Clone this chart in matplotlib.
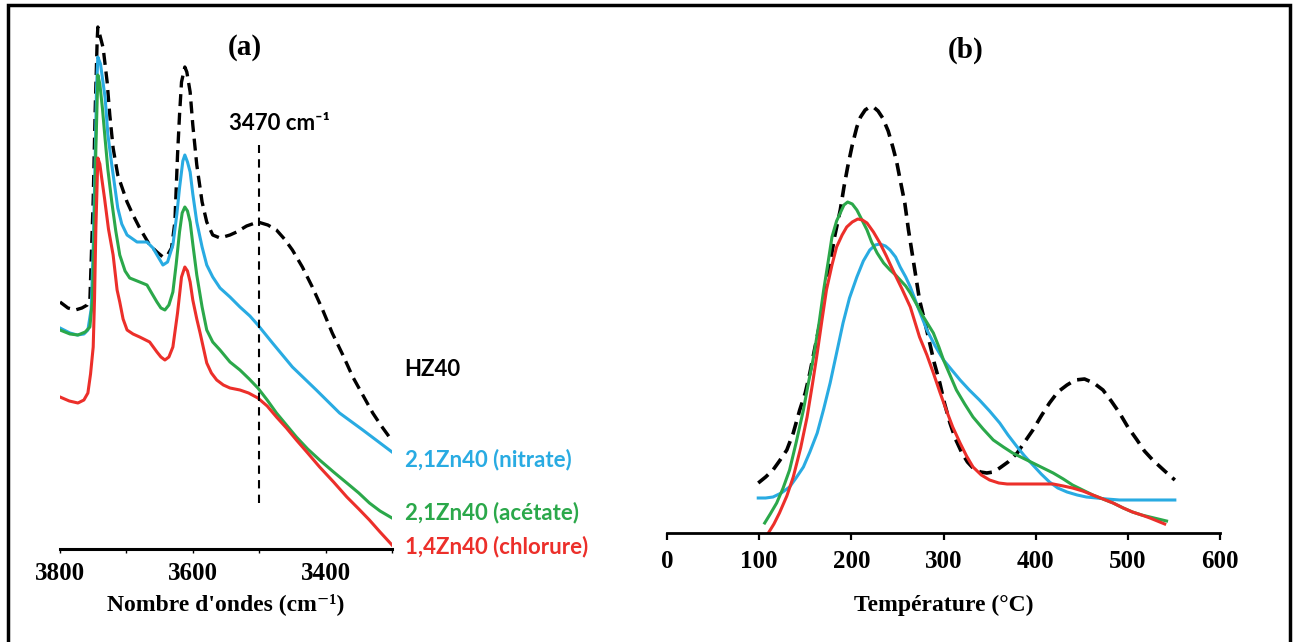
import matplotlib
matplotlib.use("Agg")
import matplotlib.pyplot as plt
from matplotlib.patches import Rectangle

# ---- (a) spectres IR : nombre d'ondes (cm-1) / absorbance (u.a.)
wn_hz40 = [3800, 3788, 3777, 3767, 3759, 3755, 3750, 3747, 3744, 3743, 3740, 3735, 3729, 3725,
           3720, 3713, 3699, 3690, 3680, 3665, 3654, 3645, 3638, 3632, 3627, 3623, 3620, 3617,
           3612, 3609, 3604, 3600, 3594, 3586, 3579, 3570, 3559, 3544, 3534, 3519, 3502, 3487,
           3474, 3462, 3450, 3435, 3420, 3405, 3390, 3374, 3359, 3344, 3329, 3316, 3304]
ab_hz40 = [2.47, 2.41, 2.39, 2.41, 2.44, 2.49, 3.49, 4.39, 5.09, 5.22, 5.14, 5.01, 4.67, 4.34,
           4.01, 3.74, 3.47, 3.34, 3.21, 3.04, 2.97, 2.92, 2.94, 3.01, 3.27, 3.94, 4.34, 4.67,
           4.82, 4.77, 4.57, 4.24, 3.84, 3.47, 3.27, 3.14, 3.11, 3.14, 3.17, 3.23, 3.27, 3.24,
           3.19, 3.10, 2.99, 2.82, 2.62, 2.40, 2.16, 1.94, 1.72, 1.54, 1.36, 1.23, 1.12]

wn_nit = [3800, 3785, 3774, 3764, 3758, 3753, 3750, 3747, 3745, 3743, 3739, 3732, 3728, 3722,
          3713, 3707, 3699, 3684, 3669, 3660, 3653, 3645, 3638, 3630, 3624, 3620, 3615, 3612,
          3608, 3604, 3600, 3594, 3586, 3579, 3570, 3559, 3544, 3529, 3514, 3502, 3480, 3450,
          3414, 3379, 3344, 3300]
ab_nit = [2.21, 2.16, 2.14, 2.15, 2.19, 2.40, 3.00, 3.90, 4.60, 4.92, 4.85, 4.51, 4.15, 3.84,
          3.41, 3.25, 3.14, 3.07, 3.07, 3.01, 2.93, 2.84, 2.87, 3.04, 3.35, 3.61, 3.88, 3.94,
          3.87, 3.77, 3.55, 3.27, 3.02, 2.84, 2.72, 2.61, 2.52, 2.42, 2.33, 2.24, 2.06, 1.82,
          1.59, 1.36, 1.19, 0.97]

wn_ace = [3800, 3785, 3773, 3762, 3755, 3751, 3748, 3746, 3743, 3740, 3736, 3733, 3728, 3722,
          3716, 3710, 3702, 3695, 3680, 3669, 3662, 3654, 3648, 3642, 3636, 3630, 3625, 3620,
          3616, 3612, 3608, 3604, 3600, 3594, 3586, 3579, 3570, 3559, 3544, 3529, 3515, 3502,
          3488, 3474, 3459, 3444, 3427, 3409, 3388, 3368, 3350, 3334, 3318, 3300]
ab_ace = [2.19, 2.15, 2.14, 2.17, 2.22, 2.50, 3.30, 4.00, 4.74, 4.65, 4.40, 4.17, 3.80, 3.47,
          3.18, 2.94, 2.78, 2.71, 2.67, 2.64, 2.56, 2.47, 2.41, 2.39, 2.44, 2.57, 2.85, 3.17,
          3.36, 3.42, 3.38, 3.27, 3.05, 2.74, 2.42, 2.19, 2.07, 1.99, 1.87, 1.79, 1.70, 1.61,
          1.49, 1.36, 1.24, 1.12, 1.00, 0.89, 0.77, 0.66, 0.56, 0.46, 0.38, 0.31]

wn_chl = [3800, 3786, 3773, 3764, 3758, 3754, 3750, 3748, 3746, 3743, 3740, 3737, 3733, 3727,
          3720, 3714, 3710, 3705, 3699, 3690, 3680, 3665, 3654, 3648, 3642, 3636, 3630, 3623,
          3617, 3612, 3608, 3604, 3600, 3594, 3589, 3579, 3572, 3564, 3554, 3544, 3529, 3516,
          3502, 3488, 3474, 3459, 3444, 3427, 3409, 3388, 3368, 3350, 3334, 3318, 3300]
ab_chl = [1.52, 1.48, 1.46, 1.49, 1.56, 1.75, 2.02, 2.50, 3.20, 3.91, 3.85, 3.70, 3.51, 3.20,
          2.94, 2.59, 2.47, 2.30, 2.19, 2.15, 2.12, 2.07, 1.97, 1.92, 1.89, 1.92, 2.02, 2.36,
          2.72, 2.82, 2.78, 2.67, 2.49, 2.30, 2.16, 1.86, 1.76, 1.69, 1.64, 1.61, 1.59, 1.56,
          1.51, 1.43, 1.32, 1.21, 1.09, 0.96, 0.82, 0.67, 0.52, 0.40, 0.29, 0.17, 0.04]

ticks_a = [3800, 3700, 3600, 3500, 3400, 3300]
ticklabels_a = ['3800', '', '3600', '', '3400', '']

# ---- (b) TPD : temperature (°C) / signal (u.a.)
t_hz40 = [99, 107, 115, 122, 130, 137, 144, 150, 155, 160, 166, 171, 177, 182, 188, 192, 196,
          201, 206, 210, 215, 220, 224, 229, 234, 240, 245, 249, 253, 258, 262, 268, 274, 280,
          285, 290, 296, 301, 307, 313, 320, 326, 332, 340, 347, 354, 361, 370, 380, 388, 397,
          406, 415, 424, 434, 443, 453, 463, 473, 482, 491, 500, 510, 518, 527, 540, 551]
s_hz40 = [0.50, 0.56, 0.63, 0.72, 0.83, 1.00, 1.23, 1.40, 1.60, 1.83, 2.10, 2.40, 2.70, 2.97,
          3.23, 3.46, 3.66, 3.88, 4.06, 4.16, 4.23, 4.26, 4.26, 4.22, 4.15, 4.02, 3.86, 3.72,
          3.53, 3.30, 3.03, 2.68, 2.33, 2.10, 1.90, 1.70, 1.50, 1.30, 1.10, 0.94, 0.80, 0.71,
          0.65, 0.61, 0.60, 0.61, 0.65, 0.71, 0.80, 0.91, 1.03, 1.17, 1.30, 1.41, 1.48, 1.53,
          1.54, 1.50, 1.43, 1.32, 1.20, 1.06, 0.93, 0.82, 0.73, 0.62, 0.53]

t_nit = [99, 107, 115, 124, 133, 140, 148, 155, 163, 170, 177, 184, 191, 198, 206, 213, 220,
         226, 231, 237, 242, 248, 253, 259, 264, 273, 282, 291, 300, 309, 318, 328, 339, 350,
         361, 370, 380, 388, 397, 406, 415, 424, 434, 445, 455, 466, 477, 491, 505, 530, 551]
s_nit = [0.35, 0.35, 0.36, 0.40, 0.46, 0.55, 0.66, 0.81, 1.00, 1.24, 1.50, 1.80, 2.10, 2.35,
         2.56, 2.72, 2.83, 2.88, 2.89, 2.87, 2.83, 2.76, 2.66, 2.56, 2.46, 2.24, 2.03, 1.87,
         1.73, 1.63, 1.53, 1.43, 1.33, 1.22, 1.10, 0.98, 0.86, 0.77, 0.68, 0.59, 0.51, 0.45,
         0.41, 0.38, 0.36, 0.35, 0.34, 0.33, 0.33, 0.33, 0.33]

t_ace = [106, 112, 119, 126, 133, 140, 148, 153, 159, 165, 170, 175, 179, 184, 188, 192, 196,
         201, 206, 211, 217, 222, 228, 235, 242, 248, 253, 259, 264, 270, 277, 283, 289, 295,
         300, 307, 314, 323, 332, 343, 354, 365, 375, 386, 397, 408, 419, 430, 440, 451, 462,
         473, 484, 495, 505, 515, 524, 533, 542]
s_ace = [0.10, 0.19, 0.30, 0.45, 0.63, 0.90, 1.23, 1.48, 1.76, 2.10, 2.43, 2.72, 2.96, 3.12,
         3.20, 3.28, 3.31, 3.29, 3.23, 3.14, 3.03, 2.91, 2.80, 2.70, 2.63, 2.58, 2.53, 2.47,
         2.40, 2.30, 2.18, 2.09, 2.00, 1.86, 1.73, 1.58, 1.43, 1.29, 1.16, 1.04, 0.93, 0.86,
         0.80, 0.75, 0.70, 0.65, 0.60, 0.54, 0.48, 0.43, 0.38, 0.34, 0.30, 0.25, 0.21, 0.18,
         0.16, 0.14, 0.12]

t_chl = [110, 116, 122, 130, 137, 145, 152, 158, 163, 168, 173, 179, 184, 190, 195, 201, 207,
         212, 217, 224, 231, 238, 245, 255, 264, 269, 274, 282, 289, 296, 303, 310, 318, 325,
         332, 341, 350, 360, 369, 397, 419, 430, 440, 451, 462, 473, 484, 495, 505, 515, 524,
         532, 540]
s_chl = [0.00, 0.09, 0.20, 0.37, 0.56, 0.85, 1.16, 1.50, 1.80, 2.12, 2.43, 2.68, 2.86, 2.98,
         3.06, 3.11, 3.14, 3.13, 3.10, 3.01, 2.90, 2.77, 2.63, 2.44, 2.26, 2.11, 1.96, 1.78,
         1.60, 1.41, 1.23, 1.06, 0.90, 0.77, 0.66, 0.58, 0.53, 0.50, 0.49, 0.49, 0.49, 0.47,
         0.45, 0.42, 0.38, 0.34, 0.30, 0.25, 0.21, 0.18, 0.15, 0.12, 0.09]

ticks_b = [0, 100, 200, 300, 400, 500, 600]

names = ['2,1Zn40 (nitrate)', '2,1Zn40 (acétate)', '1,4Zn40 (chlorure)']
c_nit, c_ace, c_chl = '#29abe2', '#2ba84a', '#ec2f2a'

serif = ['Liberation Serif', 'DejaVu Serif']
sans = ['Lato', 'DejaVu Sans']

fig = plt.figure(figsize=(12.98, 6.42), dpi=100)
fig.patches.append(Rectangle((8 / 1298, -0.1), 1282 / 1298, 1.1 - 5 / 642,
                             transform=fig.transFigure, fill=False, lw=2.5,
                             edgecolor='black', zorder=10))

# panneau (a)
ax1 = fig.add_axes([60 / 1298, 93 / 642, 332 / 1298, 529 / 642])
ax1.plot(wn_hz40, ab_hz40, color='black', lw=2.4, dashes=(3.6, 2.0))
ax1.plot(wn_nit, ab_nit, color=c_nit, lw=2.2)
ax1.plot(wn_ace, ab_ace, color=c_ace, lw=2.2)
ax1.plot(wn_chl, ab_chl, color=c_chl, lw=2.2)
ax1.plot([3501, 3501], [0.46, 4.04], color='black', lw=1.5, dashes=(4, 3))
ax1.set_xlim(3800, 3300)
ax1.set_ylim(0, 5.29)
ax1.set_xticks(ticks_a)
ax1.set_xticklabels(ticklabels_a, family=serif, fontweight='bold', fontsize=18)
ax1.set_yticks([])
ax1.tick_params(axis='x', length=3, width=1, pad=6)
for s in ['left', 'top', 'right']:
    ax1.spines[s].set_visible(False)
ax1.spines['bottom'].set_linewidth(2.2)
ax1.set_xlabel("Nombre d'ondes (cm\u207b\u00b9)", family=serif, fontweight='bold',
               fontsize=17, labelpad=6)
ax1.text(3522, 5.02, '(a)', family=serif, fontweight='bold', fontsize=21,
         ha='center', va='center')
ax1.text(3469, 4.26, '3470 cm\u207b\u00b9', family=sans, fontweight='bold', fontsize=16,
         ha='center', va='center')
ax1.text(3281, 1.79, 'HZ40', family=sans, fontweight='bold', fontsize=16,
         ha='left', va='center', color='black')
ax1.text(3281, 0.89, names[0], family=sans, fontweight='bold', fontsize=16,
         ha='left', va='center', color=c_nit)
ax1.text(3281, 0.36, names[1], family=sans, fontweight='bold', fontsize=16,
         ha='left', va='center', color=c_ace)
ax1.text(3281, 0.02, names[2], family=sans, fontweight='bold', fontsize=16,
         ha='left', va='center', color=c_chl)

# panneau (b)
ax2 = fig.add_axes([667 / 1298, 109 / 642, 553 / 1298, 513 / 642])
ax2.plot(t_hz40, s_hz40, color='black', lw=2.6, dashes=(3.6, 2.0))
ax2.plot(t_nit, s_nit, color=c_nit, lw=2.2)
ax2.plot(t_ace, s_ace, color=c_ace, lw=2.2)
ax2.plot(t_chl, s_chl, color=c_chl, lw=2.2)
ax2.set_xlim(0, 600)
ax2.set_ylim(0, 5.13)
ax2.set_xticks(ticks_b)
ax2.set_xticklabels([str(t) for t in ticks_b], family=serif, fontweight='bold', fontsize=18)
ax2.set_yticks([])
ax2.tick_params(axis='x', length=5, width=1.6, pad=7)
for s in ['left', 'top', 'right']:
    ax2.spines[s].set_visible(False)
ax2.spines['bottom'].set_linewidth(2.0)
ax2.set_xlabel('Température (°C)', family=serif, fontweight='bold', fontsize=17, labelpad=16)
ax2.text(324, 4.83, '(b)', family=serif, fontweight='bold', fontsize=21,
         ha='center', va='center')

fig.savefig('out.png', dpi=100)
